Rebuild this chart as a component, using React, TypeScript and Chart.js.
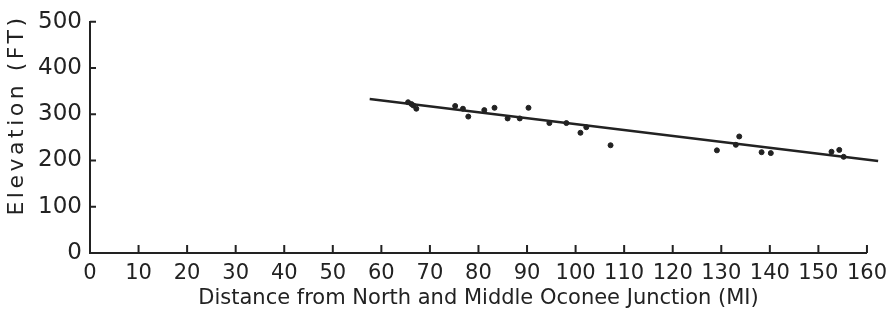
import React, { useEffect, useRef } from "react";
import { Chart, registerables } from "chart.js";

Chart.register(...registerables);

const distanceMi = [65.5, 66.2, 66.6, 67.2, 75.2, 76.8, 77.9, 81.2, 83.3, 86.0, 88.5, 90.3, 94.6, 98.1, 101.0, 102.2, 107.2, 129.1, 133.0, 133.7, 138.3, 140.2, 152.7, 154.3, 155.2];
const elevationFt = [326, 322, 319, 312, 318, 312, 295, 309, 314, 291, 291, 314, 281, 281, 260, 272, 233, 222, 234, 252, 218, 216, 219, 223, 208];
const trendX = [57.6, 162.3];
const trendY = [333, 199];
const xTicks = [0, 10, 20, 30, 40, 50, 60, 70, 80, 90, 100, 110, 120, 130, 140, 150, 160];
const yTicks = [0, 100, 200, 300, 400, 500];
const yTitle = "Elevation (FT)";
const xTitle = "Distance from North and Middle Oconee Junction (MI)";

const INK = "#222222";

const inwardTicks = {
  id: "inwardTicks",
  afterDraw(chart: any) {
    const ctx = chart.ctx;
    const xs = chart.scales.x;
    const ys = chart.scales.y;
    const area = chart.chartArea;
    ctx.save();
    ctx.strokeStyle = INK;
    ctx.lineWidth = 2;
    ctx.beginPath();
    xTicks.forEach((v) => {
      if (v === 0) return;
      const px = xs.getPixelForValue(v);
      ctx.moveTo(px, area.bottom);
      ctx.lineTo(px, area.bottom - 8);
    });
    yTicks.forEach((v) => {
      if (v === 0) return;
      const py = ys.getPixelForValue(v);
      ctx.moveTo(area.left, py);
      ctx.lineTo(area.left + 6, py);
    });
    ctx.stroke();
    // y axis title with wide letter spacing
    ctx.fillStyle = INK;
    ctx.font = "500 22px 'DejaVu Sans'";
    (ctx as any).letterSpacing = "3.5px";
    ctx.textAlign = "center";
    ctx.textBaseline = "middle";
    ctx.translate(17, 115);
    ctx.rotate(-Math.PI / 2);
    ctx.fillText(yTitle, 0, 0);
    ctx.restore();
  },
};

export default function App() {
  const ref = useRef<HTMLCanvasElement | null>(null);
  useEffect(() => {
    if (!ref.current) return;
    const chart = new Chart(ref.current, {
      type: "scatter",
      data: {
        datasets: [
          {
            label: "Observed",
            data: distanceMi.map((x, i) => ({ x, y: elevationFt[i] })),
            backgroundColor: INK,
            borderColor: INK,
            pointRadius: 2.5,
            pointHoverRadius: 2.5,
            showLine: false,
          },
          {
            label: "Trend",
            data: trendX.map((x, i) => ({ x, y: trendY[i] })),
            borderColor: INK,
            borderWidth: 2.5,
            pointRadius: 0,
            showLine: true,
            clip: false as any,
          },
        ],
      },
      options: {
        animation: false,
        responsive: false,
        maintainAspectRatio: false,
        layout: { padding: { top: 15, right: 25, left: 0, bottom: 10 } },
        plugins: { legend: { display: false }, tooltip: { enabled: false } },
        scales: {
          x: {
            type: "linear",
            min: 0,
            max: 160,
            afterBuildTicks: (s: any) => {
              s.ticks = xTicks.map((v) => ({ value: v }));
            },
            afterFit: (s: any) => {
              s.height = 58;
            },
            grid: { display: false, drawTicks: false },
            border: { display: true, color: INK, width: 2 },
            ticks: {
              color: INK,
              padding: 8,
              maxRotation: 0,
              autoSkip: false,
              font: { family: "DejaVu Sans", size: 21 },
            },
            title: {
              display: true,
              text: xTitle,
              color: INK,
              font: { family: "DejaVu Sans", size: 21 },
              padding: { top: 4, bottom: 0 },
            },
          },
          y: {
            type: "linear",
            min: 0,
            max: 500,
            afterBuildTicks: (s: any) => {
              s.ticks = yTicks.map((v) => ({ value: v }));
            },
            afterFit: (s: any) => {
              s.width = 90;
            },
            grid: { display: false, drawTicks: false },
            border: { display: true, color: INK, width: 2 },
            ticks: {
              color: INK,
              padding: 8,
              autoSkip: false,
              font: { family: "DejaVu Sans", size: 23 },
            },
            title: { display: false },
          },
        },
      },
      plugins: [inwardTicks],
    });
    return () => chart.destroy();
  }, []);
  return (
    <div style={{ position: "absolute", left: 0, top: 0, width: 895, height: 321, background: "#fff" }}>
      <canvas ref={ref} width={895} height={321} style={{ width: 895, height: 321, display: "block" }} />
    </div>
  );
}
